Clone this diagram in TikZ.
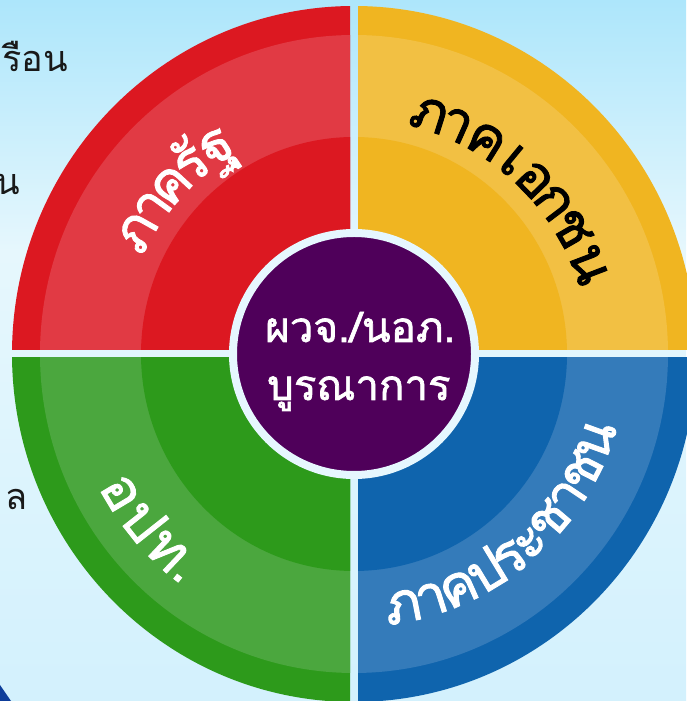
\documentclass[tikz,border=0pt]{standalone}
\usepackage{fontspec}
\newfontfamily\thaifont[Script=Thai]{Loma}
\newfontfamily\thaiarcfont[Script=Thai, FakeBold=1.6]{Loma}
\usepackage{tikz}
\usetikzlibrary{calc, positioning}
\definecolor{SkyTop}{HTML}{ADE6FB}
\definecolor{SkyMid}{HTML}{E6F7FD}
\definecolor{SkyBottom}{HTML}{D3F1FD}
\definecolor{StateRed}{HTML}{DC1821}
\definecolor{StateRedLight}{HTML}{E13A44}
\definecolor{PrivateGold}{HTML}{F0B521}
\definecolor{PrivateGoldLight}{HTML}{F2C043}
\definecolor{LocalGreen}{HTML}{2D9A1B}
\definecolor{LocalGreenLight}{HTML}{4BA73E}
\definecolor{PeopleBlue}{HTML}{0F64AD}
\definecolor{PeopleBlueLight}{HTML}{347BBA}
\definecolor{HubPurple}{HTML}{4F005A}
\definecolor{HubRim}{HTML}{E6F7FE}
\definecolor{CornerNavy}{HTML}{0D3D9A}
\tikzset{
  % Text styles
  sidetext/.style={anchor=base west, inner sep=0pt, font=\thaifont\fontsize{36}{44}\selectfont, text=black!90},
  arctext/.style={anchor=base, inner sep=0pt, font=\thaiarcfont\fontsize{56}{66}\selectfont},
  hubtext/.style={anchor=base west, inner sep=0pt, text=white, font=\thaiarcfont\fontsize{42}{52}\selectfont},
  % Hub style
  hubnode/.style={circle, fill=HubPurple, draw=HubRim, line width=8pt, minimum size=242pt, inner sep=0pt}
}

\begin{document}
\begin{tikzpicture}[x=1pt, y=1pt]
  \useasboundingbox (0,0) rectangle (686,701);
  % Background
  \shade[top color=SkyTop, bottom color=SkyMid] (0,450) rectangle (686,701);
  \shade[top color=SkyMid, bottom color=SkyBottom] (0,0) rectangle (686,450);
  \fill[CornerNavy] (0,0) -- (0,16) -- (11,0) -- cycle;

  % Side texts
  \node[sidetext] (side1) at (2,629) {รือน};
  \node[sidetext] (side2) at (-5,506) {น};
  \node[sidetext] (side3) at (5,191) {ล};

  \coordinate (hubc) at (354,347);

  % Quadrants
  \foreach \sx/\sy/\dark/\light in {-1/1/StateRed/StateRedLight, 1/1/PrivateGold/PrivateGoldLight, -1/-1/LocalGreen/LocalGreenLight, 1/-1/PeopleBlue/PeopleBlueLight}{
    \begin{scope}
      \clip[shift={(hubc)}] (\sx*4,\sy*4) rectangle (\sx*360,\sy*360);
      \fill[\dark] (hubc) ellipse [x radius=342, y radius=348];
      \fill[\light] (hubc) ellipse [x radius=314, y radius=319];
      \fill[\dark] (hubc) ellipse [x radius=213, y radius=217];
    \end{scope}
  }

  % Hub
  \node[hubnode] (hub) at (hubc) {};
  \node[hubtext] (hubtitle) at (265,359) {ผวจ./นอภ.};
  \node[hubtext] (hubsub) at (267,301) {บูรณาการ};

  % Sector labels
  \foreach \ch/\ang [count=\i] in {ภ/150.7, า/144.0, ค/137.3, รั/130.6, ฐ/123.5}
    \node[arctext, text=white, rotate=\ang-90] (state\i) at ($(hubc)+(\ang:233)$) {\ch};
  \foreach \ch/\ang [count=\i] in {ภ/72.5, า/65.9, ค/58.1, เ/50.5, อ/44.0, ก/37.2, ช/29.9, น/20.9}
    \node[arctext, text=black, rotate=\ang-90] (private\i) at ($(hubc)+(\ang:235)$) {\ch};
  \foreach \ch/\ang [count=\i] in {อ/-149.2, ป/-141.7, ท/-133.5, ./-128.2}
    \node[arctext, text=white, rotate=\ang+90] (local\i) at ($(hubc)+(\ang:288)$) {\ch};
  \foreach \ch/\ang [count=\i] in {ภ/-79.0, า/-72.4, ค/-65.9, ป/-58.8, ร/-52.6, ะ/-46.9, ช/-40.4, า/-33.8, ช/-27.2, น/-19.7}
    \node[arctext, text=white, rotate=\ang+90] (people\i) at ($(hubc)+(\ang:273)$) {\ch};
\end{tikzpicture}
\end{document}
